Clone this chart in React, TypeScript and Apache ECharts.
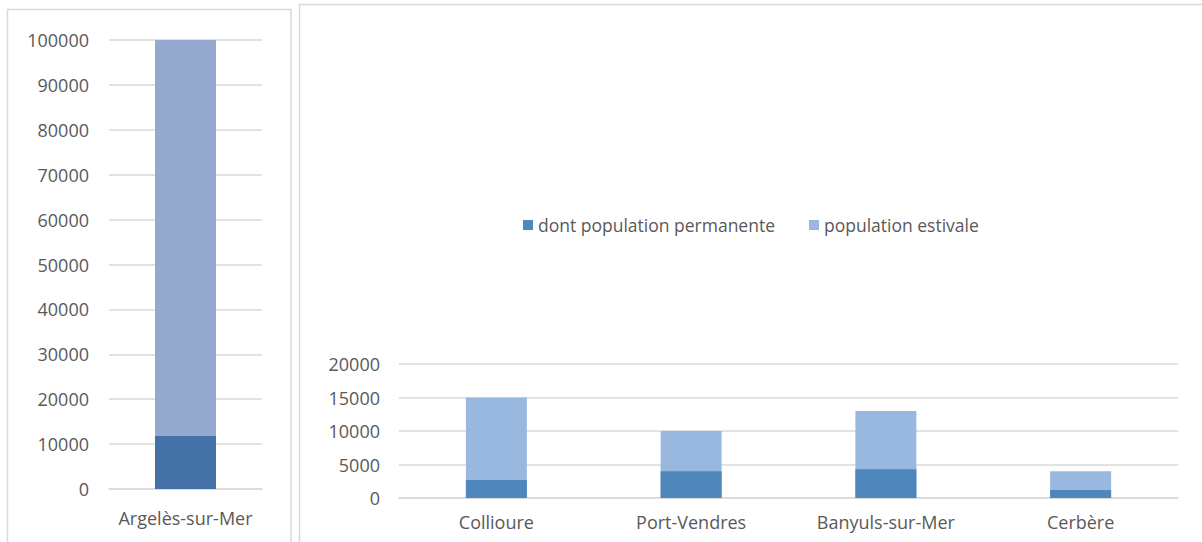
import React, { useEffect, useRef } from "react";
import * as echarts from "echarts";

const leftCategories = ["Argelès-sur-Mer"];
const leftEstivale = [100000];
const leftPermanente = [11800];

const rightCategories = ["Collioure", "Port-Vendres", "Banyuls-sur-Mer", "Cerbère"];
const rightEstivale = [15000, 10000, 13000, 4000];
const rightPermanente = [2700, 4000, 4300, 1200];

const NAME_PERM = "dont population permanente";
const NAME_EST = "population estivale";

const FONT = "'Open Sans', sans-serif";
const TXT = "#595959";
const GRID = "#d9d9d9";

export default function App() {
  const ref = useRef<HTMLDivElement>(null);
  useEffect(() => {
    if (!ref.current) return;
    const chart = echarts.init(ref.current, null, { renderer: "svg" });
    const axisLabel = { color: TXT, fontFamily: FONT, fontSize: 18 };
    const plain = (v: number) => String(v);
    chart.setOption({
      animation: false,
      backgroundColor: "#ffffff",
      textStyle: { fontFamily: FONT },
      graphic: [
        { type: "rect", shape: { x: 7.5, y: 9.5, width: 283.5, height: 600 }, style: { fill: "none", stroke: GRID, lineWidth: 1.5 }, silent: true },
        { type: "rect", shape: { x: 299.5, y: 4.5, width: 1000, height: 600 }, style: { fill: "none", stroke: GRID, lineWidth: 1.5 }, silent: true },
      ],
      legend: {
        data: [NAME_PERM, NAME_EST],
        left: 523,
        top: 216,
        padding: 0,
        itemWidth: 10,
        itemHeight: 10,
        itemGap: 34,
        icon: "rect",
        textStyle: { color: TXT, fontFamily: FONT, fontSize: 17.5 },
      },
      grid: [
        { left: 109, top: 40, width: 153, height: 449 },
        { left: 399, top: 364, width: 779, height: 134 },
      ],
      xAxis: [
        {
          type: "category", gridIndex: 0, data: leftCategories,
          axisLine: { lineStyle: { color: GRID, width: 1.5 } }, axisTick: { show: false },
          axisLabel: { ...axisLabel, margin: 20 },
        },
        {
          type: "category", gridIndex: 1, data: rightCategories,
          axisLine: { lineStyle: { color: GRID, width: 1.5 } }, axisTick: { show: false },
          axisLabel: { ...axisLabel, margin: 15 },
        },
      ],
      yAxis: [
        {
          type: "value", gridIndex: 0, min: 0, max: 100000, interval: 10000,
          axisLine: { show: false }, axisTick: { show: false },
          splitLine: { lineStyle: { color: GRID, width: 1.5 } },
          axisLabel: { ...axisLabel, margin: 20, formatter: plain },
        },
        {
          type: "value", gridIndex: 1, min: 0, max: 20000, interval: 5000,
          axisLine: { show: false }, axisTick: { show: false },
          splitLine: { lineStyle: { color: GRID, width: 1.5 } },
          axisLabel: { ...axisLabel, margin: 19, formatter: plain },
        },
      ],
      series: [
        { type: "bar", name: NAME_EST, xAxisIndex: 1, yAxisIndex: 1, data: rightEstivale, barWidth: 61, barGap: "-100%", itemStyle: { color: "#98b8df" } },
        { type: "bar", name: NAME_PERM, xAxisIndex: 1, yAxisIndex: 1, data: rightPermanente, barWidth: 61, barGap: "-100%", itemStyle: { color: "#4f87bd" } },
        { type: "bar", name: NAME_EST, xAxisIndex: 0, yAxisIndex: 0, data: leftEstivale, barWidth: 61, barGap: "-100%", itemStyle: { color: "#95a9cf" } },
        { type: "bar", name: NAME_PERM, xAxisIndex: 0, yAxisIndex: 0, data: leftPermanente, barWidth: 61, barGap: "-100%", itemStyle: { color: "#4572a6" } },
      ],
    });
    return () => chart.dispose();
  }, []);
  return <div ref={ref} style={{ position: "fixed", left: 0, top: 0, width: 1202, height: 542 }} />;
}
